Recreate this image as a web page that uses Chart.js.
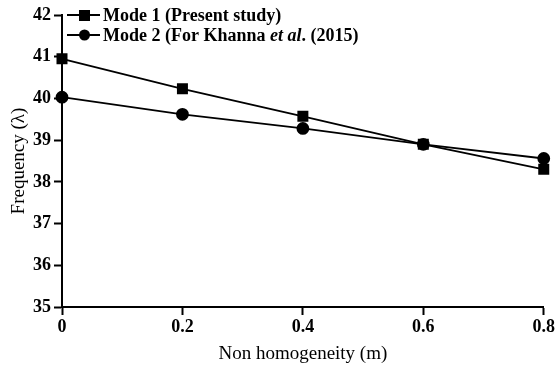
<!DOCTYPE html>
<html>
<head>
<meta charset="utf-8">
<script src="https://cdn.jsdelivr.net/npm/chart.js@4.4.0/dist/chart.umd.min.js"></script>
<style>
  html, body { margin: 0; padding: 0; background: #fff; }
  #wrap { width: 557px; height: 370px; }
</style>
</head>
<body>
<div id="wrap"><canvas id="freqChart" width="557" height="370"></canvas></div>
<script>
const xValues = [0, 0.2, 0.4, 0.6, 0.8]
const mode1 = [40.95, 40.23, 39.57, 38.9, 38.3]
const mode2 = [40.03, 39.62, 39.28, 38.9, 38.56]
const yTicks = [35, 36, 37, 38, 39, 40, 41, 42]
const xTicks = [0, 0.2, 0.4, 0.6, 0.8]

const serif = "'Liberation Serif', 'DejaVu Serif', serif"

// legend drawn inside the plot, top-left, with "et al." in italics
const insideLegend = {
    id: 'insideLegend',
    afterDraw(chart) {
        const ctx = chart.ctx
        const area = chart.chartArea
        const rows = [
            { style: 'rect', parts: [['Mode 1 (Present study)', 'bold']] },
            { style: 'circle', parts: [['Mode 2 (For Khanna ', 'bold'], ['et al', 'italic bold'], ['. (2015)', 'bold']] }
        ]
        ctx.save()
        rows.forEach((row, i) => {
            const y = area.top + i * 20
            const x0 = area.left + 5
            ctx.strokeStyle = '#000'
            ctx.lineWidth = 2
            ctx.beginPath()
            ctx.moveTo(x0, y)
            ctx.lineTo(x0 + 33, y)
            ctx.stroke()
            ctx.fillStyle = '#000'
            if (row.style === 'rect') {
                ctx.fillRect(x0 + 12, y - 5, 11, 11)
            } else {
                ctx.beginPath()
                ctx.arc(x0 + 17.5, y, 5.5, 0, Math.PI * 2)
                ctx.fill()
            }
            let tx = x0 + 36
            ctx.textBaseline = 'middle'
            row.parts.forEach(p => {
                ctx.font = p[1] + ' 18px ' + serif
                ctx.fillText(p[0], tx, y + 1)
                tx += ctx.measureText(p[0]).width
            })
        })
        ctx.restore()
    }
}

const ctx = document.getElementById('freqChart').getContext('2d')

const data = {
    datasets: [{
        label: 'Mode 1 (Present study)',
        data: xValues.map((x, i) => ({ x: x, y: mode1[i] })),
        borderColor: '#000',
        backgroundColor: '#000',
        borderWidth: 1.8,
        pointStyle: 'rect',
        pointRadius: 6.5,
        pointHoverRadius: 6.5
    }, {
        label: 'Mode 2 (For Khanna et al. (2015)',
        data: xValues.map((x, i) => ({ x: x, y: mode2[i] })),
        borderColor: '#000',
        backgroundColor: '#000',
        borderWidth: 1.8,
        pointStyle: 'circle',
        pointRadius: 5.5,
        pointHoverRadius: 5.5
    }]
}

const axisGrid = {
    display: true,
    drawOnChartArea: false,
    drawTicks: true,
    tickLength: 8,
    tickWidth: 2,
    tickColor: '#000'
}

const config = {
    type: 'line',
    data: data,
    plugins: [insideLegend],
    options: {
        responsive: false,
        animation: false,
        clip: false,
        layout: { padding: { top: 15, right: 9, left: 0, bottom: 0 } },
        plugins: {
            legend: { display: false },
            tooltip: { enabled: false }
        },
        scales: {
            x: {
                type: 'linear',
                min: 0,
                max: 0.8,
                afterBuildTicks: axis => { axis.ticks = xTicks.map(v => ({ value: v })) },
                afterFit: axis => { axis.height = 63 },
                grid: axisGrid,
                border: { color: '#000', width: 2 },
                ticks: {
                    color: '#000',
                    padding: 2,
                    maxRotation: 0,
                    font: { family: serif, size: 18, weight: 'bold' },
                    callback: v => String(v)
                },
                title: {
                    display: true,
                    text: 'Non homogeneity (m)',
                    color: '#000',
                    font: { family: serif, size: 19 },
                    padding: { top: 0, bottom: 5 }
                }
            },
            y: {
                min: 35,
                max: 42,
                afterBuildTicks: axis => { axis.ticks = yTicks.map(v => ({ value: v })) },
                afterFit: axis => { axis.width = 62 },
                grid: axisGrid,
                border: { color: '#000', width: 2 },
                ticks: {
                    color: '#000',
                    padding: 3,
                    font: { family: serif, size: 18, weight: 'bold' }
                },
                title: {
                    display: true,
                    text: 'Frequency (λ)',
                    color: '#000',
                    font: { family: serif, size: 19 },
                    padding: { top: 8, bottom: 0 }
                }
            }
        }
    }
}

const freqChart = new Chart(ctx, config)
</script>
</body>
</html>
